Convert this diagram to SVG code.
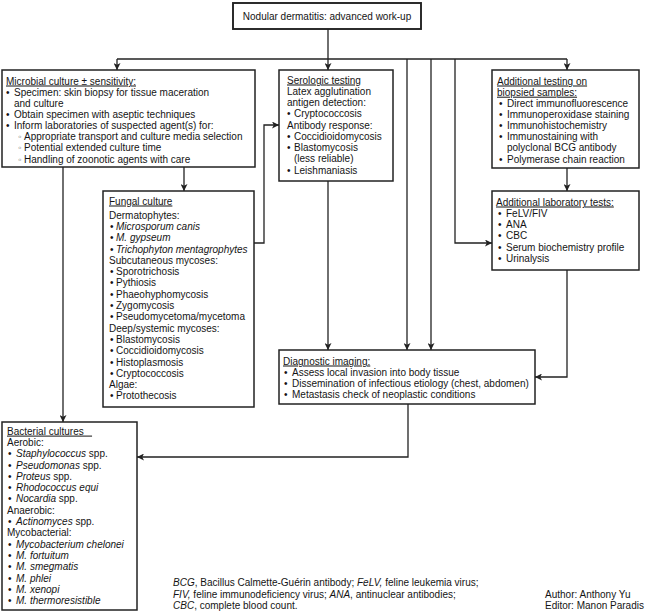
<svg xmlns="http://www.w3.org/2000/svg" width="650" height="612" viewBox="0 0 650 612">
<style>
text{font-family:"Liberation Sans",Arial,Helvetica,sans-serif;font-size:10px;fill:#141414}
.u{text-decoration:underline}
.i{font-style:italic}
.box{fill:#fff;stroke:#222;stroke-width:1.5}
.ttl{fill:#fff;stroke:#222;stroke-width:1.9}
.c{fill:none;stroke:#222;stroke-width:1.3}
.sb{fill:#777}
</style>
<defs>
<marker id="ah" viewBox="0 0 10 10" refX="10" refY="5" markerWidth="8" markerHeight="7" markerUnits="userSpaceOnUse" orient="auto">
<path d="M0,0 L10,5 L0,10 L2.5,5 z" fill="#222"/>
</marker>
</defs>
<rect width="650" height="612" fill="#fff"/>

<g id="connectors">
<path class="c" d="M328,29 V59"/>
<path class="c" d="M117,59 H567"/>
<path class="c" d="M117,59 V70" marker-end="url(#ah)"/>
<path class="c" d="M328,59 V70" marker-end="url(#ah)"/>
<path class="c" d="M567,59 V70" marker-end="url(#ah)"/>
<path class="c" d="M407,59 V350" marker-end="url(#ah)"/>
<path class="c" d="M431,59 V350" marker-end="url(#ah)"/>
<path class="c" d="M455,59 V243 H492" marker-end="url(#ah)"/>
<path class="c" d="M63,167 V422" marker-end="url(#ah)"/>
<path class="c" d="M184,167 V191" marker-end="url(#ah)"/>
<path class="c" d="M254,243 H264 V125 H279" marker-end="url(#ah)"/>
<path class="c" d="M328,181 V350" marker-end="url(#ah)"/>
<path class="c" d="M567,168 V191" marker-end="url(#ah)"/>
<path class="c" d="M567,270 V377 H535" marker-end="url(#ah)"/>
<path class="c" d="M408,404 V457 H137" marker-end="url(#ah)"/>
</g>

<g id="title">
<rect class="ttl" x="233" y="3" width="188" height="26"/>
<text x="327" y="20" text-anchor="middle">Nodular dermatitis: advanced work-up</text>
</g>

<g id="microbial">
<rect class="box" x="2" y="70" width="253" height="97"/>
<text class="u" x="6" y="84.5">Microbial culture ± sensitivity:</text>
<text x="6" y="95.7">•</text><text x="14" y="95.7">Specimen: skin biopsy for tissue maceration</text>
<text x="14" y="106.8">and culture</text>
<text x="6" y="118">•</text><text x="14" y="118">Obtain specimen with aseptic techniques</text>
<text x="6" y="129.1">•</text><text x="14" y="129.1">Inform laboratories of suspected agent(s) for:</text>
<text class="sb" x="18" y="140.3">◦</text><text x="24" y="140.3">Appropriate transport and culture media selection</text>
<text class="sb" x="18" y="151.4">◦</text><text x="24" y="151.4">Potential extended culture time</text>
<text class="sb" x="18" y="162.6">◦</text><text x="24" y="162.6">Handling of zoonotic agents with care</text>
</g>

<g id="serologic">
<rect class="box" x="279" y="70" width="114" height="111"/>
<text class="u" x="287" y="83.5">Serologic testing</text>
<text x="287" y="94.8">Latex agglutination</text>
<text x="287" y="106">antigen detection:</text>
<text x="287" y="117.3">•</text><text x="294" y="117.3">Cryptococcosis</text>
<text x="287" y="128.6">Antibody response:</text>
<text x="287" y="139.9">•</text><text x="294" y="139.9">Coccidioidomycosis</text>
<text x="287" y="151.1">•</text><text x="294" y="151.1">Blastomycosis</text>
<text x="294" y="162.4">(less reliable)</text>
<text x="287" y="173.7">•</text><text x="294" y="173.7">Leishmaniasis</text>
</g>

<g id="biopsied">
<rect class="box" x="492" y="70" width="147" height="98"/>
<text class="u" x="497" y="84.5">Additional testing on</text>
<text class="u" x="497" y="95.7">biopsied samples:</text>
<text x="499" y="106.8">•</text><text x="507" y="106.8">Direct immunofluorescence</text>
<text x="499" y="118">•</text><text x="507" y="118">Immunoperoxidase staining</text>
<text x="499" y="129.1">•</text><text x="507" y="129.1">Immunohistochemistry</text>
<text x="499" y="140.3">•</text><text x="507" y="140.3">Immunostaining with</text>
<text x="507" y="151.4">polyclonal BCG antibody</text>
<text x="499" y="162.6">•</text><text x="507" y="162.6">Polymerase chain reaction</text>
</g>

<g id="fungal">
<rect class="box" x="103" y="191" width="151" height="216"/>
<text class="u" x="109" y="204.5">Fungal culture</text>
<text x="109" y="218.6">Dermatophytes:</text>
<text x="110" y="229.9">•</text><text class="i" x="116" y="229.9">Microsporum canis</text>
<text x="110" y="241.2">•</text><text class="i" x="116" y="241.2">M. gypseum</text>
<text x="110" y="252.5">•</text><text class="i" x="116" y="252.5">Trichophyton mentagrophytes</text>
<text x="109" y="263.8">Subcutaneous mycoses:</text>
<text x="110" y="275.1">•</text><text x="116" y="275.1">Sporotrichosis</text>
<text x="110" y="286.4">•</text><text x="116" y="286.4">Pythiosis</text>
<text x="110" y="297.7">•</text><text x="116" y="297.7">Phaeohyphomycosis</text>
<text x="110" y="309">•</text><text x="116" y="309">Zygomycosis</text>
<text x="110" y="320.3">•</text><text x="116" y="320.3">Pseudomycetoma/mycetoma</text>
<text x="109" y="331.6">Deep/systemic mycoses:</text>
<text x="110" y="342.9">•</text><text x="116" y="342.9">Blastomycosis</text>
<text x="110" y="354.2">•</text><text x="116" y="354.2">Coccidioidomycosis</text>
<text x="110" y="365.5">•</text><text x="116" y="365.5">Histoplasmosis</text>
<text x="110" y="376.8">•</text><text x="116" y="376.8">Cryptococcosis</text>
<text x="109" y="388.1">Algae:</text>
<text x="110" y="399.4">•</text><text x="116" y="399.4">Protothecosis</text>
</g>

<g id="labtests">
<rect class="box" x="492" y="191" width="147" height="79"/>
<text class="u" x="496" y="205.5">Additional laboratory tests:</text>
<text x="498" y="216.8">•</text><text x="506" y="216.8">FeLV/FIV</text>
<text x="498" y="228.1">•</text><text x="506" y="228.1">ANA</text>
<text x="498" y="239.4">•</text><text x="506" y="239.4">CBC</text>
<text x="498" y="250.7">•</text><text x="506" y="250.7">Serum biochemistry profile</text>
<text x="498" y="262">•</text><text x="506" y="262">Urinalysis</text>
</g>

<g id="imaging">
<rect class="box" x="279" y="350" width="256" height="54"/>
<text class="u" x="283" y="364.5">Diagnostic imaging:</text>
<text x="284" y="375.8">•</text><text x="292" y="375.8">Assess local invasion into body tissue</text>
<text x="284" y="387.1">•</text><text x="292" y="387.1">Dissemination of infectious etiology (chest, abdomen)</text>
<text x="284" y="398.4">•</text><text x="292" y="398.4">Metastasis check of neoplastic conditions</text>
</g>

<g id="bacterial">
<rect class="box" x="2" y="422" width="135" height="188"/>
<text class="u" x="7" y="434.6">Bacterial cultures&#160;&#160;&#160;</text>
<text x="7" y="445.9">Aerobic:</text>
<text x="8" y="457.2">•</text><text x="16" y="457.2"><tspan class="i">Staphylococcus</tspan> spp.</text>
<text x="8" y="468.5">•</text><text x="16" y="468.5"><tspan class="i">Pseudomonas</tspan> spp.</text>
<text x="8" y="479.8">•</text><text x="16" y="479.8"><tspan class="i">Proteus</tspan> spp.</text>
<text x="8" y="491.1">•</text><text class="i" x="16" y="491.1">Rhodococcus equi</text>
<text x="8" y="502.4">•</text><text x="16" y="502.4"><tspan class="i">Nocardia</tspan> spp.</text>
<text x="7" y="513.7">Anaerobic:</text>
<text x="8" y="525">•</text><text x="16" y="525"><tspan class="i">Actinomyces</tspan> spp.</text>
<text x="7" y="536.3">Mycobacterial:</text>
<text x="8" y="547.6">•</text><text class="i" x="16" y="547.6">Mycobacterium chelonei</text>
<text x="8" y="558.9">•</text><text class="i" x="16" y="558.9">M. fortuitum</text>
<text x="8" y="570.2">•</text><text class="i" x="16" y="570.2">M. smegmatis</text>
<text x="8" y="581.5">•</text><text class="i" x="16" y="581.5">M. phlei</text>
<text x="8" y="592.8">•</text><text class="i" x="16" y="592.8">M. xenopi</text>
<text x="8" y="604.1">•</text><text class="i" x="16" y="604.1">M. thermoresistible</text>
</g>

<g id="footnote">
<text x="173" y="586.3"><tspan class="i">BCG</tspan>, Bacillus Calmette-Guérin antibody; <tspan class="i">FeLV,</tspan> feline leukemia virus;</text>
<text x="173" y="597.6"><tspan class="i">FIV,</tspan> feline immunodeficiency virus; <tspan class="i">ANA</tspan>, antinuclear antibodies;</text>
<text x="173" y="608.9"><tspan class="i">CBC</tspan>, complete blood count.</text>
<text x="545" y="597.6">Author: Anthony Yu</text>
<text x="545" y="608.9">Editor: Manon Paradis</text>
</g>
</svg>
